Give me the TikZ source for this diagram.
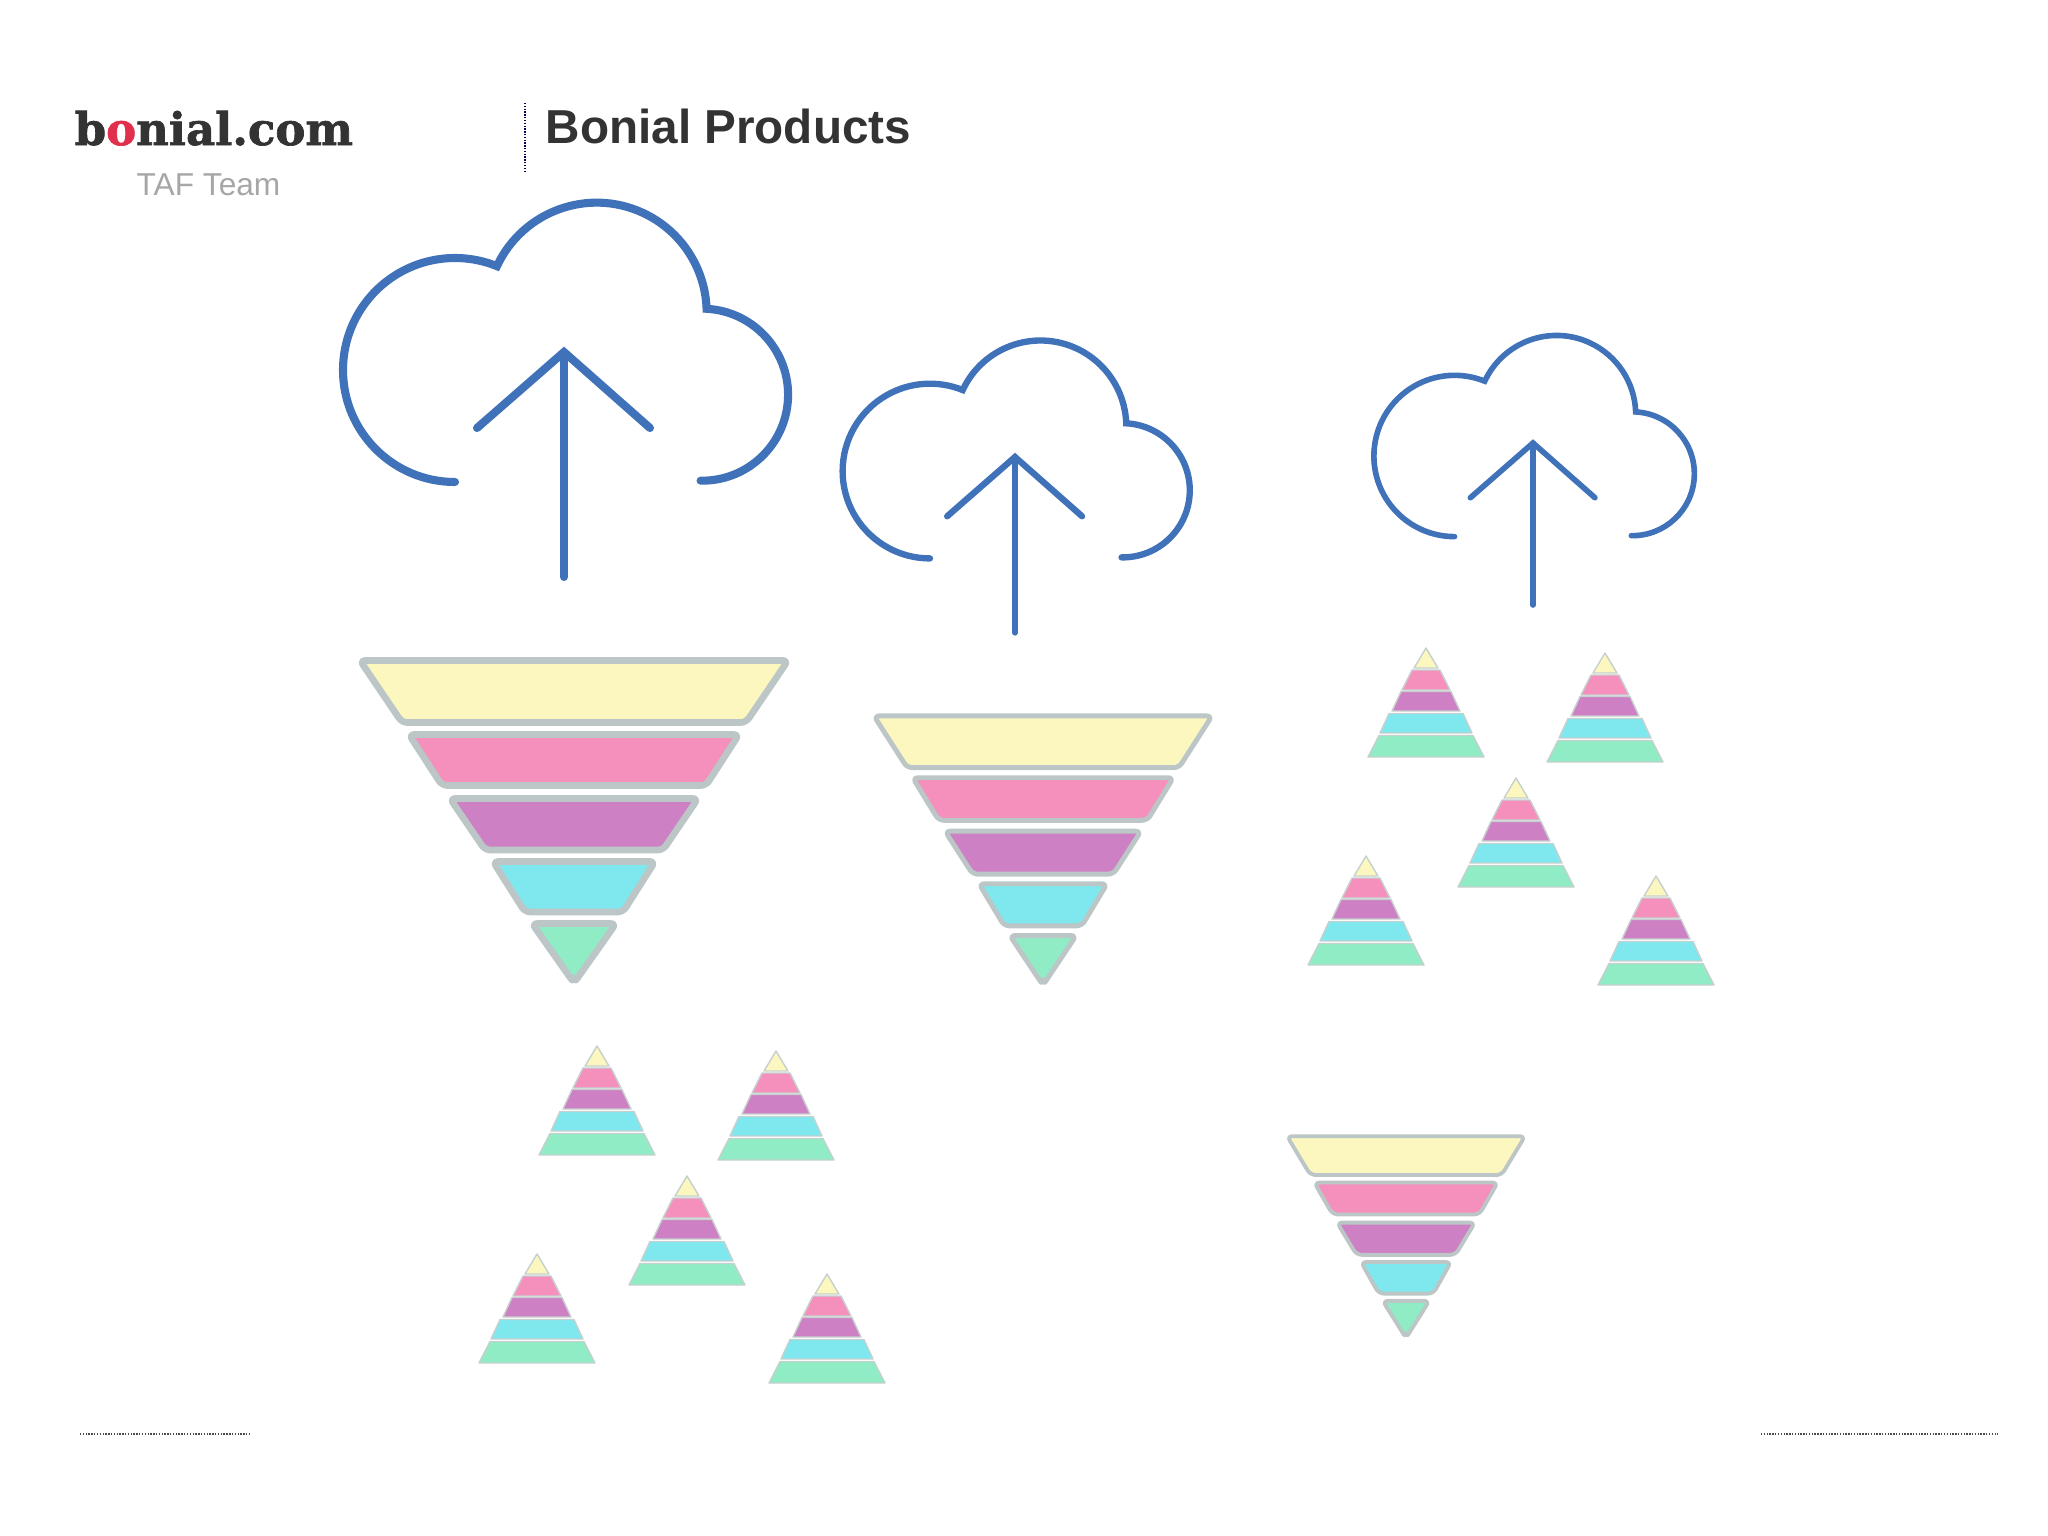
\documentclass[tikz,border=0pt]{standalone}
\usepackage{fontspec}
\setmainfont{Liberation Sans}
\newfontfamily\logofont[BoldFeatures={FakeBold=1.5}]{DejaVu Serif}
\definecolor{cloudblue}{HTML}{3F72B8}
\definecolor{bandedge}{HTML}{BCC6C6}
\definecolor{pyredge}{HTML}{C6D0CE}
\definecolor{bandyellow}{HTML}{FCF7BE}
\definecolor{bandpink}{HTML}{F58FBC}
\definecolor{bandpurple}{HTML}{CE80C4}
\definecolor{bandcyan}{HTML}{7FE8EE}
\definecolor{bandgreen}{HTML}{90ECC4}
\definecolor{logored}{HTML}{E0304E}

\begin{document}
\begin{tikzpicture}[x=0.01cm, y=-0.01cm,
  cloudline/.style={draw=cloudblue, line cap=round, line join=miter},
  band/.style={draw=bandedge, line join=round},
  dotline/.style={draw=#1, line width=0.4pt, dash pattern=on 0.4pt off 0.4pt},
  headline/.style={anchor=base west, text=black!80, font=\bfseries\fontsize{13.55pt}{16pt}\selectfont},
  logotext/.style={anchor=base west, text=black!80, font=\logofont\bfseries\fontsize{12.8pt}{15pt}\selectfont},
  subtext/.style={anchor=base west, text=black!35, font=\fontsize{9pt}{11pt}\selectfont},
  cloudup/.pic={
    \draw[cloudline] (-109,130) arc[start angle=90, end angle=292, radius=112]
      arc[start angle=205, end angle=358, radius=110]
      arc[start angle=273, end angle=451, radius=86];
    \draw[cloudline] (-87,76) -- (0,0) -- (86,76);
    \draw[cloudline] (0,0) -- (0,225);
  },
  funnel/.pic={
    \foreach \ytop/\ybot/\wtop/\wbot/\col in {3.5/65.5/214/172/bandyellow, 77.5/128.5/165/132/bandpink,
      141.5/193/124/89/bandpurple, 204.5/255/81/49/bandcyan, 266.5/326/42/0/bandgreen}
      \filldraw[band, fill=\col, rounded corners=1.5pt] (-\wtop,\ytop) -- (\wtop,\ytop) -- (\wbot,\ybot) -- (-\wbot,\ybot) -- cycle;
  },
  pyramid/.pic={
    \foreach \ytop/\ybot/\wtop/\wbot/\col in {1/21/0/12/bandyellow, 23/43/14/24/bandpink,
      44.5/64/25/34/bandpurple, 66.5/86/37/46/bandcyan, 88.5/110/47/58/bandgreen}
      \filldraw[draw=pyredge, fill=\col, line join=round, line width=0.4pt] (-\wtop,\ytop) -- (\wtop,\ytop) -- (\wbot,\ybot) -- (-\wbot,\ybot) -- cycle;
  }
]

\useasboundingbox (0,0) rectangle (2048,1536);

% Header
\node[logotext, inner sep=0pt] (logo) at (74,145) {b\textcolor{logored}{o}nial.com};
\node[subtext, inner sep=0pt] (team) at (136,195) {TAF Team};
\node[headline, inner sep=0pt] (title) at (545,143) {Bonial Products};

\coordinate (septop) at (525,103);
\coordinate (sepbot) at (525,173);
\draw[dotline=blue!35!black] (septop) -- (sepbot);

% Footer
\coordinate (footAl) at (80,1434);
\coordinate (footAr) at (251,1434);
\coordinate (footBl) at (1761,1434);
\coordinate (footBr) at (1998,1434);
\draw[dotline=black!70] (footAl) -- (footAr);
\draw[dotline=black!70] (footBl) -- (footBr);

% Clouds
\pic[line width=2.3pt] (cloudA) at (564,352) {cloudup};
\pic[scale=0.78, line width=1.8pt] (cloudB) at (1015,457) {cloudup};
\pic[scale=0.72, line width=1.6pt] (cloudC) at (1533,443) {cloudup};

% Funnels
\pic[line width=1.9pt] (funnelA) at (574,657) {funnel};
\pic[xscale=0.79, yscale=0.835, line width=1.4pt] (funnelB) at (1043,713) {funnel};
\pic[xscale=0.556, yscale=0.626, line width=1.1pt] (funnelC) at (1406,1134) {funnel};

% Pyramid groups
\foreach \px/\py [count=\i] in {1426/647, 1605/652, 1516/777, 1366/855, 1656/875} {
  \pic (pyrA\i) at (\px,\py) {pyramid};
  \pic (pyrB\i) at (\px-829,\py+398) {pyramid};
}

\end{tikzpicture}
\end{document}
